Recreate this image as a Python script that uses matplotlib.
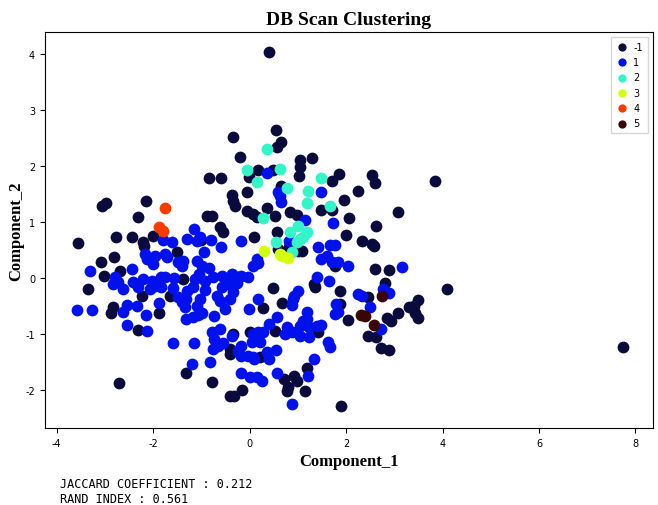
import numpy as np
import matplotlib
matplotlib.use("Agg")
import matplotlib.pyplot as plt

plt.rcParams["axes.unicode_minus"] = False

# cluster labels and colours as shown in the legend
labels = ["-1", "1", "2", "3", "4", "5"]
colors = ["#0a0a3c", "#0011ee", "#33f5c8", "#d4ff0a", "#ff3a00", "#3a0505"]

noise = [
    (0.41, 4.04), (0.54, 2.64), (-0.35, 2.52), (0.66, 2.43), (0.56, 2.34), (-0.19, 2.16),
    (0.17, 1.93), (0.48, 1.93), (-0.02, 1.80), (-0.85, 1.79), (-0.60, 1.79), (1.04, 2.11),
    (1.29, 2.14), (1.04, 1.98), (1.02, 1.82), (1.85, 1.86), (1.70, 1.73), (2.53, 1.84),
    (2.59, 1.70), (3.84, 1.73), (0.64, 1.64), (-0.06, 1.54), (-0.37, 1.48), (-0.35, 1.38),
    (-0.31, 1.29), (2.24, 1.55), (1.95, 1.39), (1.70, 1.21), (1.49, 1.21), (3.07, 1.18),
    (2.07, 1.07), (2.63, 0.93), (1.99, 0.77), (2.32, 0.66), (2.53, 0.61), (2.57, 0.57),
    (-0.06, 1.20), (0.06, 1.14), (0.15, 1.09), (0.35, 1.25), (0.52, 1.11), (0.83, 1.18),
    (0.98, 1.13), (0.56, 0.82), (0.81, 0.55), (0.10, 0.73), (-0.62, 0.91), (-0.56, 0.82),
    (-0.89, 1.11), (-0.79, 1.11), (-1.00, 0.68), (0.58, 0.52), (1.00, 0.48), (1.08, 0.48),
    (-2.16, 1.38), (-2.32, 1.09), (-3.07, 1.29), (-2.97, 1.34), (-3.55, 0.63), (-2.78, 0.73),
    (-2.45, 0.73), (-2.01, 0.75), (-2.22, 0.64), (-2.20, 0.57), (-1.51, 0.46), (-2.82, 0.38),
    (-3.09, 0.29), (-3.03, 0.04), (-2.68, 0.13), (-3.36, -0.20), (-2.84, -0.52), (-2.88, -0.63),
    (-2.24, -0.32), (-1.66, -0.32), (-1.87, -0.63), (-2.32, -0.93), (-2.72, -1.88), (-1.39, -0.02),
    (-1.31, -1.70), (-0.79, -1.86), (-0.15, -2.00), (-0.41, -2.11), (-0.33, -2.11), (-0.35, -1.00),
    (-0.41, -1.27), (-0.41, -1.36), (0.00, -0.96), (0.21, -1.41), (0.48, -0.18), (0.27, -0.54),
    (0.68, -0.45), (0.52, -0.95), (0.71, -1.80), (0.93, -1.75), (0.98, -1.84), (0.79, -1.95),
    (0.77, -2.02), (1.18, -1.61), (1.14, -2.02), (1.89, -2.29), (1.35, -0.16), (1.33, -0.11),
    (1.41, -0.96), (1.87, -0.23), (1.87, -0.46), (1.78, 0.21), (2.03, -0.75), (2.45, -0.34),
    (2.80, -0.09), (2.59, 0.16), (2.90, 0.14), (2.45, -1.04), (2.63, -1.05), (2.72, -1.25),
    (2.88, -1.29), (2.84, -0.71), (2.93, -0.77), (3.07, -0.63), (3.30, -0.52), (3.40, -0.50),
    (3.49, -0.39), (3.42, -0.63), (3.49, -0.71), (4.09, -0.20), (7.74, -1.23),
]

cluster_1 = [
    (0.35, 1.88), (0.58, 1.54), (0.62, 1.46), (0.64, 1.36), (1.49, 1.54), (1.72, 0.98),
    (1.14, 1.04), (-0.17, 0.66), (-1.16, 0.88), (-1.29, 0.70), (-1.04, 0.73), (-1.10, 0.66),
    (-0.81, 0.68), (-0.95, 0.46), (-0.60, 0.55), (-1.10, 0.30), (-0.98, 0.21), (-0.85, 0.18),
    (-1.80, 0.68), (-1.62, 0.64), (-2.18, 0.43), (-2.12, 0.34), (-1.97, 0.39), (-2.01, 0.25),
    (-1.76, 0.43), (-1.72, 0.38), (-1.49, 0.29), (-1.39, 0.30), (-1.41, 0.21), (-3.32, 0.13),
    (-2.43, 0.16), (-2.80, 0.02), (-2.74, -0.07), (-2.84, -0.11), (-2.63, -0.20), (-2.41, -0.07),
    (-2.32, -0.16), (-2.22, -0.02), (-2.03, -0.05), (-2.07, -0.20), (-1.97, -0.14), (-1.83, -0.16),
    (-1.76, 0.02), (-1.83, 0.02), (-1.56, 0.00), (-1.60, -0.18), (-1.49, -0.34), (-1.41, -0.43),
    (-1.35, -0.52), (-1.31, -0.38), (-1.29, -0.23), (-1.18, -0.16), (-1.14, -0.02), (-1.06, 0.07),
    (-0.93, -0.05), (-0.93, -0.21), (-1.04, -0.38), (-1.10, -0.50), (-1.31, -0.73), (-1.18, -0.70),
    (-1.08, -0.66), (-0.98, -0.63), (-0.73, -0.68), (-0.68, -0.32), (-0.62, -0.41), (-0.52, -0.55),
    (-0.41, -0.38), (-0.35, -0.25), (-0.58, -0.16), (-0.77, 0.02), (-0.58, 0.04), (-0.48, -0.02),
    (-0.37, 0.07), (-0.27, 0.02), (-0.17, 0.04), (-0.04, 0.02), (-0.35, -0.14), (-0.27, -0.09),
    (-0.41, -0.11), (-2.55, -0.48), (-2.63, -0.61), (-2.34, -0.50), (-2.14, -0.66), (-1.87, -0.45),
    (-2.55, -0.84), (-2.12, -0.95), (-3.26, -0.57), (-3.59, -0.57), (-1.60, -1.16), (-1.16, -1.16),
    (-1.20, -1.54), (-0.83, -1.50), (-0.62, -0.91), (-0.79, -0.96), (-0.73, -1.09), (-0.66, -1.21),
    (-0.77, -1.27), (-0.56, -1.16), (-0.37, -1.04), (-0.25, -1.30), (-0.17, -1.21), (-0.17, -1.39),
    (-0.04, -1.39), (0.10, -1.45), (0.06, -1.00), (0.17, -0.96), (0.04, -1.14), (0.27, -0.96),
    (0.21, -1.14), (0.35, -1.32), (0.41, -1.45), (0.54, -1.29), (-0.17, -1.70), (0.00, -1.77),
    (0.15, -1.77), (0.25, -1.84), (0.56, -1.70), (0.87, -2.25), (1.22, -1.75), (1.33, -1.45),
    (1.66, -1.23), (1.62, -1.14), (0.41, -0.82), (0.56, -0.70), (0.77, -0.88), (0.87, -0.96),
    (1.04, -0.86), (1.10, -0.77), (1.18, -0.73), (1.18, -0.61), (1.24, -0.88), (1.24, -1.05),
    (1.39, -0.86), (1.49, -0.84), (0.89, -0.38), (0.93, -0.32), (1.00, -0.23), (0.87, -0.48),
    (0.17, -0.38), (-0.02, -0.55), (1.39, 0.02), (1.64, -0.05), (2.24, -0.29), (2.34, -0.32),
    (2.76, -0.20), (2.90, -0.27), (2.49, -0.52), (2.72, -0.91), (1.80, -0.46), (1.76, -0.64),
    (1.83, -0.61), (3.15, 0.20), (2.03, 0.21), (1.83, 0.29), (1.70, 0.29), (1.60, 0.39),
    (1.66, 0.59), (1.76, 0.59), (1.41, 0.55), (1.49, 0.34), (0.15, 0.34), (0.17, 0.27),
    (0.06, 0.21), (0.81, 0.66), (0.73, -1.00), (1.04, -1.04), (0.06, -1.41),
]

cluster_2 = [
    (0.37, 2.30), (-0.06, 1.93), (0.62, 1.95), (0.15, 1.71), (0.77, 1.61), (1.49, 1.79),
    (1.20, 1.55), (1.18, 1.34), (1.66, 1.29), (0.27, 1.07), (1.00, 0.93), (0.83, 0.82),
    (1.18, 0.82), (1.10, 0.73), (0.54, 0.64), (0.87, 0.46), (0.98, 0.64), (1.04, 0.70),
]

cluster_3 = [(0.29, 0.48), (0.68, 0.39), (0.79, 0.36), (0.62, 0.43)]

cluster_4 = [(-1.76, 1.25), (-1.89, 0.91), (-1.80, 0.84)]

cluster_5 = [(2.74, -0.32), (2.30, -0.66), (2.39, -0.68), (2.57, -0.84)]

jaccard = 0.212
rand_index = 0.561

groups = [noise, cluster_1, cluster_2, cluster_3, cluster_4, cluster_5]

fig = plt.figure(figsize=(6.58, 5.06), dpi=100)
ax = fig.add_axes([0.068, 0.152, 0.924, 0.783])

for pts, lab, col in zip(groups, labels, colors):
    arr = np.array(pts)
    ax.scatter(arr[:, 0], arr[:, 1], s=72, c=col, label=lab, linewidths=0)

ax.set_xlim(-4.25, 8.36)
ax.set_ylim(-2.68, 4.39)
ax.set_xticks([-4, -2, 0, 2, 4, 6, 8])
ax.set_yticks([-2, -1, 0, 1, 2, 3, 4])
ax.tick_params(labelsize=7)

ax.set_title("DB Scan Clustering", fontsize=14, fontweight="bold",
             family="Liberation Serif", pad=6)
ax.set_xlabel("Component_1", fontsize=12, fontweight="bold", family="Liberation Serif")
ax.set_ylabel("Component_2", fontsize=12, fontweight="bold", family="Liberation Serif",
              labelpad=1)

ax.legend(loc="upper right", fontsize=7, markerscale=0.7, handletextpad=0.6,
          borderpad=0.5, labelspacing=0.55, handlelength=1.2, fancybox=False)

fig.text(0.091, 0.036, "JACCARD COEFFICIENT : %.3f" % jaccard,
         family="DejaVu Sans Mono", fontsize=8.5)
fig.text(0.091, 0.006, "RAND INDEX : %.3f" % rand_index,
         family="DejaVu Sans Mono", fontsize=8.5)

fig.savefig("out.png", dpi=100)
